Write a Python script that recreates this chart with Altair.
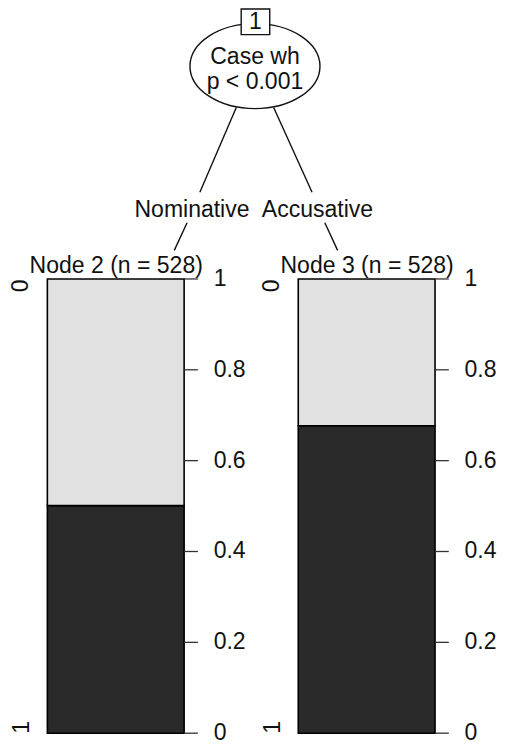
import altair as alt
import pandas as pd

# ---------------- data ----------------
nodes = ["Node 2", "Node 3"]
node_n = [528, 528]
prop_class1 = [0.501, 0.677]          # share of class "1" (dark segment)
classes = ["0", "1"]
split_var = "Case wh"
split_p = "p < 0.001"
root_id = "1"
edge_labels = ["Nominative", "Accusative"]
tick_values = [0, 0.2, 0.4, 0.6, 0.8, 1]
tick_labels = ["0", "0.2", "0.4", "0.6", "0.8", "1"]

# ---------------- layout (page pixels) ----------------
Y0, Y1 = 744, 283                      # pixel rows of proportion 0 and 1


def py(p):
    return (Y0 - p) / (Y0 - Y1)


panel_x = {"Node 2": (48, 187), "Node 3": (303, 442)}
FONT = "Liberation Sans"
FS = 23
INK = "#111111"
LIGHT = "#e1e1e1"
DARK = "#2a2a2a"

# the layout spans the whole picture; map it onto the 490x738 drawing area
xs = alt.Scale(domain=[8, 506], nice=False, zero=False)
ys = alt.Scale(domain=[py(757), py(8)], nice=False, zero=False)

# bars
bar_rows = []
for node, p in zip(nodes, prop_class1):
    x0, x1 = panel_x[node]
    bar_rows.append(dict(node=node, cls="1", y0=0.0, y1=p, x0=x0, x1=x1))
    bar_rows.append(dict(node=node, cls="0", y0=p, y1=1.0, x0=x0, x1=x1))
bars_df = pd.DataFrame(bar_rows)

bars = alt.Chart(bars_df).mark_rect(stroke="#000000", strokeWidth=1.6).encode(
    x=alt.X("x0:Q", scale=xs, axis=None),
    x2="x1:Q",
    y=alt.Y("y0:Q", scale=ys, axis=None),
    y2="y1:Q",
    fill=alt.Fill("cls:N", scale=alt.Scale(domain=classes, range=[LIGHT, DARK]), legend=None),
)

# right axes (ticks + labels)
tick_rows = []
for node in nodes:
    x0, x1 = panel_x[node]
    for v, lab in zip(tick_values, tick_labels):
        tick_rows.append(dict(node=node, v=v, lab=lab, tx0=x1, tx1=x1 + 14, lx=x1 + 30))
ticks_df = pd.DataFrame(tick_rows)

ticks = alt.Chart(ticks_df).mark_rule(color="#333333", strokeWidth=1.3).encode(
    x=alt.X("tx0:Q", scale=xs, axis=None), x2="tx1:Q",
    y=alt.Y("v:Q", scale=ys, axis=None),
)
tick_text = alt.Chart(ticks_df).mark_text(
    align="left", baseline="middle", font=FONT, fontSize=FS, color=INK
).encode(
    x=alt.X("lx:Q", scale=xs, axis=None),
    y=alt.Y("v:Q", scale=ys, axis=None),
    text="lab:N",
)

# rotated class labels on the left of each bar
cls_rows = []
for node in nodes:
    x0, _ = panel_x[node]
    cls_rows.append(dict(lab=classes[0], x=x0 - 27, y=py(290)))
    cls_rows.append(dict(lab=classes[1], x=x0 - 26, y=py(738)))
cls_text = alt.Chart(pd.DataFrame(cls_rows)).mark_text(
    align="center", baseline="middle", angle=270, font=FONT, fontSize=FS, color=INK
).encode(
    x=alt.X("x:Q", scale=xs, axis=None),
    y=alt.Y("y:Q", scale=ys, axis=None),
    text="lab:N",
)

# node titles
title_rows = []
for node, n in zip(nodes, node_n):
    x0, x1 = panel_x[node]
    title_rows.append(dict(lab=f"{node} (n = {n})", x=(x0 + x1) / 2 + 0.5, y=py(270)))
titles = alt.Chart(pd.DataFrame(title_rows)).mark_text(
    align="center", baseline="middle", font=FONT, fontSize=FS, color=INK
).encode(
    x=alt.X("x:Q", scale=xs, axis=None),
    y=alt.Y("y:Q", scale=ys, axis=None),
    text="lab:N",
)

# edges
edge_rows = [
    dict(x=240, y=py(109), x2=203, y2=py(195)),
    dict(x=278, y=py(109), x2=317, y2=py(195)),
    dict(x=190, y=py(226), x2=177, y2=py(254)),
    dict(x=330, y=py(226), x2=343, y2=py(254)),
]
edges = alt.Chart(pd.DataFrame(edge_rows)).mark_rule(color="#111111", strokeWidth=1.4).encode(
    x=alt.X("x:Q", scale=xs, axis=None), x2="x2:Q",
    y=alt.Y("y:Q", scale=ys, axis=None), y2="y2:Q",
)

edge_text = alt.Chart(pd.DataFrame([
    dict(lab=edge_labels[0], x=195, y=py(213)),
    dict(lab=edge_labels[1], x=322.5, y=py(213)),
])).mark_text(align="center", baseline="middle", font=FONT, fontSize=FS, color=INK).encode(
    x=alt.X("x:Q", scale=xs, axis=None),
    y=alt.Y("y:Q", scale=ys, axis=None),
    text="lab:N",
)

# root ellipse
EW, EH = 130, 85
k = EH / EW
c = 0.5523
ellipse_path = (
    f"M -1 0 C -1 {-k*c:.4f} {-c} {-k:.4f} 0 {-k:.4f} "
    f"C {c} {-k:.4f} 1 {-k*c:.4f} 1 0 "
    f"C 1 {k*c:.4f} {c} {k:.4f} 0 {k:.4f} "
    f"C {-c} {k:.4f} -1 {k*c:.4f} -1 0 Z"
)
root_df = pd.DataFrame([dict(x=259, y=py(67))])
ellipse = alt.Chart(root_df).mark_point(
    shape=ellipse_path, size=EW * EW, filled=True, fill="white",
    stroke="#111111", strokeWidth=1.4, opacity=1
).encode(
    x=alt.X("x:Q", scale=xs, axis=None),
    y=alt.Y("y:Q", scale=ys, axis=None),
)

root_text = alt.Chart(pd.DataFrame([
    dict(lab=split_var, x=259, y=py(58)),
    dict(lab=split_p, x=259, y=py(83)),
])).mark_text(align="center", baseline="middle", font=FONT, fontSize=FS, color=INK).encode(
    x=alt.X("x:Q", scale=xs, axis=None),
    y=alt.Y("y:Q", scale=ys, axis=None),
    text="lab:N",
)

box = alt.Chart(pd.DataFrame([dict(x=245, x2=274, y=py(9), y2=py(35))])).mark_rect(
    fill="white", stroke="#111111", strokeWidth=1.4
).encode(
    x=alt.X("x:Q", scale=xs, axis=None), x2="x2:Q",
    y=alt.Y("y:Q", scale=ys, axis=None), y2="y2:Q",
)
box_text = alt.Chart(pd.DataFrame([dict(lab=root_id, x=259.5, y=py(22.5))])).mark_text(
    align="center", baseline="middle", font=FONT, fontSize=FS, color=INK
).encode(
    x=alt.X("x:Q", scale=xs, axis=None),
    y=alt.Y("y:Q", scale=ys, axis=None),
    text="lab:N",
)

chart = alt.layer(
    edges, ellipse, box, box_text, root_text, edge_text, titles,
    bars, ticks, tick_text, cls_text
).properties(
    width=490, height=738, padding=0, autosize="none"
).configure_view(stroke=None)

chart.save("out.html", embed_options={"renderer": "svg", "actions": False})
